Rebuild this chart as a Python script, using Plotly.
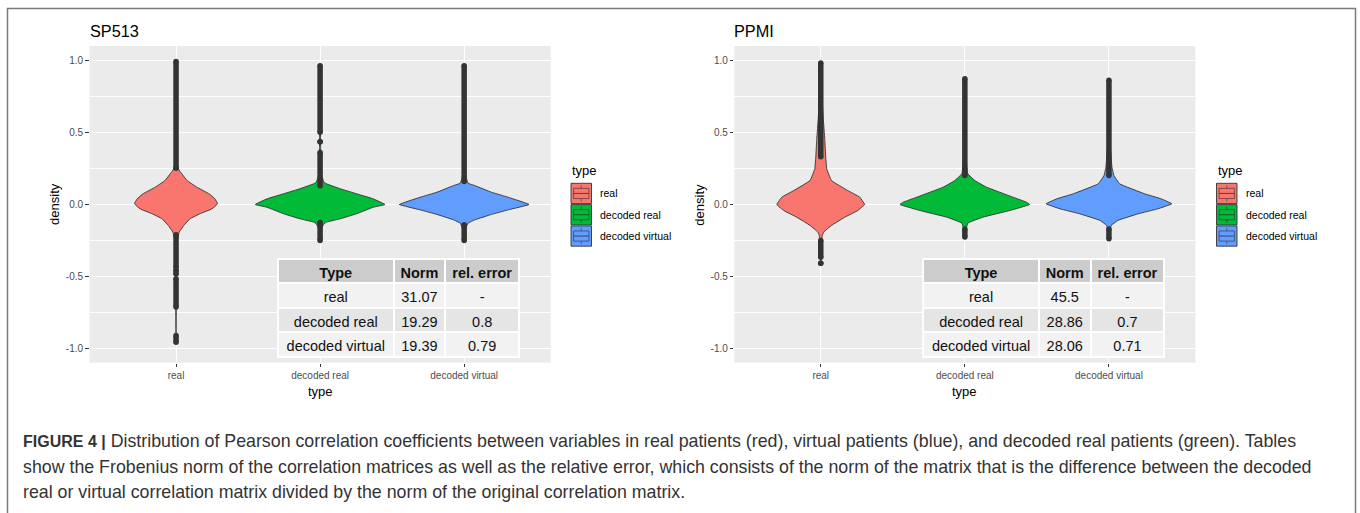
import plotly.graph_objects as go

W, H = 1360, 513

# ---------------- data ----------------
categories = ["real", "decoded real", "decoded virtual"]
panel_titles = ["SP513", "PPMI"]
fill_colors = ["#F8766D", "#00BA38", "#619CFF"]

# violin density profiles (y value, relative density; widest violin of a panel = 1)
sp_real_y = [-0.94, -0.40, -0.25, -0.19, -0.145, -0.099, -0.064, -0.03, 0.005, 0.039, 0.074, 0.12, 0.166, 0.212, 0.235, 0.27, 0.4, 1.0]
sp_real_d = [0, 0.008, 0.018, 0.05, 0.12, 0.215, 0.37, 0.555, 0.64, 0.6, 0.51, 0.32, 0.17, 0.09, 0.05, 0.023, 0.009, 0]
sp_dreal_y = [-0.25, -0.20, -0.16, -0.134, -0.122, -0.099, -0.064, -0.019, 0.0, 0.039, 0.074, 0.109, 0.143, 0.154, 0.20, 0.40, 0.96]
sp_dreal_d = [0, 0.012, 0.03, 0.06, 0.10, 0.31, 0.565, 0.82, 1.0, 0.82, 0.565, 0.31, 0.10, 0.06, 0.023, 0.008, 0]
sp_dvirt_y = [-0.25, -0.20, -0.16, -0.129, -0.106, -0.069, -0.037, 0.0, 0.05, 0.085, 0.131, 0.147, 0.2, 0.4, 0.96]
sp_dvirt_d = [0, 0.012, 0.03, 0.06, 0.165, 0.42, 0.68, 1.0, 0.68, 0.42, 0.165, 0.06, 0.023, 0.008, 0]

pp_real_y = [-0.41, -0.30, -0.215, -0.19, -0.145, -0.088, -0.042, 0.0, 0.051, 0.097, 0.166, 0.247, 0.327, 0.45, 0.6, 0.8, 0.98]
pp_real_d = [0, 0.012, 0.023, 0.046, 0.165, 0.37, 0.57, 0.677, 0.6, 0.415, 0.165, 0.092, 0.077, 0.062, 0.038, 0.015, 0]
pp_dreal_y = [-0.225, -0.18, -0.129, -0.088, -0.042, 0.0, 0.016, 0.051, 0.12, 0.166, 0.212, 0.3, 0.5, 0.87]
pp_dreal_d = [0, 0.015, 0.046, 0.277, 0.69, 1.0, 0.95, 0.74, 0.334, 0.154, 0.046, 0.023, 0.011, 0]
pp_dvirt_y = [-0.237, -0.19, -0.145, -0.11, -0.065, -0.03, 0.005, 0.04, 0.074, 0.143, 0.2, 0.26, 0.4, 0.6, 0.86]
pp_dvirt_d = [0, 0.015, 0.035, 0.138, 0.446, 0.754, 0.97, 0.8, 0.55, 0.165, 0.077, 0.046, 0.023, 0.011, 0]

# box statistics per category
sp_q1 = [-0.037, -0.03, -0.03]
sp_med = [0.018, 0.009, 0.005]
sp_q3 = [0.078, 0.035, 0.05]
sp_lo = [-0.21, -0.125, -0.14]
sp_hi = [0.25, 0.13, 0.16]
pp_q1 = [-0.046, -0.03, -0.03]
pp_med = [0.021, 0.016, 0.016]
pp_q3 = [0.104, 0.062, 0.062]
pp_lo = [-0.25, -0.17, -0.17]
pp_hi = [0.33, 0.2, 0.2]

# dense runs of outlier points (low, high)
sp_real_out = [(0.25, 0.99), (-0.434, -0.21), (-0.457, -0.457), (-0.48, -0.48), (-0.71, -0.514), (-0.953, -0.907)]
sp_dreal_out = [(0.13, 0.36), (0.435, 0.435), (0.5, 0.96), (-0.25, -0.125)]
sp_dvirt_out = [(0.16, 0.96), (-0.25, -0.14)]
pp_real_out = [(0.33, 0.98), (-0.365, -0.25), (-0.406, -0.406)]
pp_dreal_out = [(0.2, 0.87), (-0.225, -0.17)]
pp_dvirt_out = [(0.2, 0.86), (-0.237, -0.17)]

# tables
table_header = ["Type", "Norm", "rel. error"]
sp_norm = [31.07, 19.29, 19.39]
sp_err = [None, 0.8, 0.79]
pp_norm = [45.5, 28.86, 28.06]
pp_err = [None, 0.7, 0.71]

caption_bold = "FIGURE 4 |"
caption_lines = [
    " Distribution of Pearson correlation coefficients between variables in real patients (red), virtual patients (blue), and decoded real patients (green). Tables",
    "show the Frobenius norm of the correlation matrices as well as the relative error, which consists of the norm of the matrix that is the difference between the decoded",
    "real or virtual correlation matrix divided by the norm of the original correlation matrix.",
]

# ---------------- figure ----------------
FONT = "Liberation Sans, Arial, Helvetica, sans-serif"
DARK = "#333333"
VIOLIN_HALF = 0.45
BOX_W = 0.055
NBSP = "\u00a0"
EMPTY_HEADER = 16.5  # px taken by plotly's (empty, transparent) table header


def px(x):
    return x / W


def py(y):
    return 1 - y / H


fig = go.Figure()

panels = [
    dict(xa="x", ya="y", prof=[(sp_real_y, sp_real_d), (sp_dreal_y, sp_dreal_d), (sp_dvirt_y, sp_dvirt_d)],
         q1=sp_q1, med=sp_med, q3=sp_q3, lo=sp_lo, hi=sp_hi,
         out=[sp_real_out, sp_dreal_out, sp_dvirt_out], norm=sp_norm, err=sp_err),
    dict(xa="x2", ya="y2", prof=[(pp_real_y, pp_real_d), (pp_dreal_y, pp_dreal_d), (pp_dvirt_y, pp_dvirt_d)],
         q1=pp_q1, med=pp_med, q3=pp_q3, lo=pp_lo, hi=pp_hi,
         out=[pp_real_out, pp_dreal_out, pp_dvirt_out], norm=pp_norm, err=pp_err),
]

for p in panels:
    # violins
    for i, (ys, ds) in enumerate(p["prof"]):
        c = i + 1
        xs = [c + VIOLIN_HALF * d for d in ds] + [c - VIOLIN_HALF * d for d in reversed(ds)]
        yy = list(ys) + list(reversed(ys))
        fig.add_trace(go.Scatter(
            x=xs, y=yy, mode="lines", fill="toself", fillcolor=fill_colors[i],
            line=dict(color=DARK, width=0.9, shape="spline", smoothing=0.25),
            xaxis=p["xa"], yaxis=p["ya"], showlegend=False, hoverinfo="skip"))
    # boxes
    for i in range(3):
        fig.add_trace(go.Box(
            x=[i + 1], q1=[p["q1"][i]], median=[p["med"][i]], q3=[p["q3"][i]],
            lowerfence=[p["lo"][i]], upperfence=[p["hi"][i]],
            width=BOX_W, whiskerwidth=0, fillcolor=fill_colors[i],
            line=dict(color=DARK, width=0.9), boxpoints=False,
            xaxis=p["xa"], yaxis=p["ya"], showlegend=False, hoverinfo="skip"))
    # outliers
    for i, runs in enumerate(p["out"]):
        ox, oy = [], []
        for lo, hi in runs:
            ox += [i + 1, i + 1, None]
            oy += [lo, hi, None]
        fig.add_trace(go.Scatter(
            x=ox, y=oy, mode="lines+markers", line=dict(color=DARK, width=5.5),
            marker=dict(color=DARK, size=5.5), xaxis=p["xa"], yaxis=p["ya"],
            showlegend=False, hoverinfo="skip"))

# tables: a one-row bold header table plus a body table, so all row heights stay fixed
table_boxes = [(278, 520), (923.3, 1165)]
HEAD_TOP, HEAD_H, ROW_H = 259.5, 24.0, 24.7
no_header = dict(values=[], height=0, line=dict(width=0), fill_color="rgba(0,0,0,0)")
for p, (tx0, tx1) in zip(panels, table_boxes):
    norms = [f"{v:g}" for v in p["norm"]]
    errs = ["-" if v is None else f"{v:g}" for v in p["err"]]
    types = [c.replace(" ", NBSP) for c in categories]
    fig.add_trace(go.Table(
        domain=dict(x=[px(tx0), px(tx1)], y=[py(HEAD_TOP + HEAD_H + 6), py(HEAD_TOP - EMPTY_HEADER)]),
        columnwidth=[116, 52, 74],
        header=no_header,
        cells=dict(values=[[h.replace(" ", NBSP)] for h in table_header],
                   fill_color="#CCCCCC", line=dict(color="white", width=2), align="center",
                   height=HEAD_H, font=dict(family=FONT, size=14.5, color="#111111", weight="bold")),
    ))
    body_top = HEAD_TOP + HEAD_H
    fig.add_trace(go.Table(
        domain=dict(x=[px(tx0), px(tx1)], y=[py(362), py(body_top - EMPTY_HEADER)]),
        columnwidth=[116, 52, 74],
        header=no_header,
        cells=dict(values=[types, norms, errs],
                   fill_color=[["#F2F2F2", "#E5E5E5", "#F2F2F2"]] * 3,
                   line=dict(color="white", width=2), align="center", height=ROW_H,
                   font=dict(family=FONT, size=14.5, color="#111111")),
    ))

Y0, Y1 = 362.7, 46
axis_common_x = dict(range=[0.4, 3.6], tickvals=[1, 2, 3], ticktext=categories,
                     showgrid=True, gridcolor="white", gridwidth=1.1, zeroline=False,
                     ticks="outside", ticklen=3.5, tickwidth=1, tickcolor=DARK,
                     tickfont=dict(family=FONT, size=10, color="#4D4D4D"), showline=False,
                     fixedrange=True)
axis_common_y = dict(range=[-1.095, 1.097], tickvals=[-1, -0.5, 0, 0.5, 1],
                     ticktext=["-1.0", "-0.5", "0.0", "0.5", "1.0"],
                     showgrid=True, gridcolor="white", gridwidth=1.1, zeroline=False,
                     ticks="outside", ticklen=3.5, tickwidth=1, tickcolor=DARK,
                     tickfont=dict(family=FONT, size=10, color="#4D4D4D"), showline=False,
                     minor=dict(tickvals=[-0.75, -0.25, 0.25, 0.75], showgrid=True,
                                gridcolor="white", gridwidth=0.55, ticks=""),
                     domain=[py(Y0), py(Y1)], fixedrange=True)

fig.update_layout(
    width=W, height=H, margin=dict(l=0, r=0, t=0, b=0),
    paper_bgcolor="white", plot_bgcolor="#EBEBEB", showlegend=False,
    font=dict(family=FONT),
    xaxis=dict(axis_common_x, domain=[px(89.6), px(550.6)], anchor="y"),
    yaxis=dict(axis_common_y, anchor="x"),
    xaxis2=dict(axis_common_x, domain=[px(734.3), px(1195.4)], anchor="y2"),
    yaxis2=dict(axis_common_y, anchor="x2"),
)

annotations = []
shapes = []
panel_left = [89.6, 734.3]
panel_right = [550.6, 1195.4]
legend_x = [571, 1216.5]
for k in range(2):
    cx = (panel_left[k] + panel_right[k]) / 2
    annotations.append(dict(text=panel_titles[k], x=px(panel_left[k] - 2), y=py(31.5), xref="paper", yref="paper",
                            xanchor="left", yanchor="middle", showarrow=False,
                            font=dict(family=FONT, size=16.3, color="black")))
    annotations.append(dict(text="type", x=px(cx), y=py(391), xref="paper", yref="paper",
                            xanchor="center", yanchor="middle", showarrow=False,
                            font=dict(family=FONT, size=13, color="black")))
    annotations.append(dict(text="density", x=px(panel_left[k] - 35), y=py((Y0 + Y1) / 2), xref="paper", yref="paper",
                            xanchor="center", yanchor="middle", showarrow=False, textangle=-90,
                            font=dict(family=FONT, size=13, color="black")))
    # legend
    lx = legend_x[k]
    annotations.append(dict(text="type", x=px(lx - 1), y=py(170), xref="paper", yref="paper",
                            xanchor="left", yanchor="middle", showarrow=False,
                            font=dict(family=FONT, size=13, color="black")))
    for i, cat in enumerate(categories):
        ky0 = 183.3 + i * 21.3
        ky1 = ky0 + 20.3
        kx0, kx1 = lx, lx + 20.5
        shapes.append(dict(type="rect", xref="paper", yref="paper", x0=px(kx0), x1=px(kx1),
                           y0=py(ky1), y1=py(ky0), fillcolor=fill_colors[i],
                           line=dict(color=DARK, width=0.9), layer="above"))
        kw, kh = kx1 - kx0, ky1 - ky0
        # boxplot glyph inside the key
        shapes.append(dict(type="rect", xref="paper", yref="paper", x0=px(kx0 + 0.125 * kw), x1=px(kx0 + 0.875 * kw),
                           y0=py(ky0 + 0.75 * kh), y1=py(ky0 + 0.25 * kh), fillcolor=fill_colors[i],
                           line=dict(color=DARK, width=0.6), layer="above"))
        shapes.append(dict(type="line", xref="paper", yref="paper", x0=px(kx0 + 0.125 * kw), x1=px(kx0 + 0.875 * kw),
                           y0=py(ky0 + 0.5 * kh), y1=py(ky0 + 0.5 * kh), line=dict(color=DARK, width=0.8), layer="above"))
        shapes.append(dict(type="line", xref="paper", yref="paper", x0=px(kx0 + 0.5 * kw), x1=px(kx0 + 0.5 * kw),
                           y0=py(ky0 + 0.1 * kh), y1=py(ky0 + 0.25 * kh), line=dict(color=DARK, width=0.6), layer="above"))
        shapes.append(dict(type="line", xref="paper", yref="paper", x0=px(kx0 + 0.5 * kw), x1=px(kx0 + 0.5 * kw),
                           y0=py(ky0 + 0.75 * kh), y1=py(ky0 + 0.9 * kh), line=dict(color=DARK, width=0.6), layer="above"))
        annotations.append(dict(text=cat, x=px(kx1 + 6.5), y=py((ky0 + ky1) / 2), xref="paper", yref="paper",
                                xanchor="left", yanchor="middle", showarrow=False,
                                font=dict(family=FONT, size=10.5, color="black")))

# caption
cap_y = [441, 467, 492]
for j, line in enumerate(caption_lines):
    if j == 0:
        txt = f"<span style='font-size:16px'><b>{caption_bold}</b></span>" + line
    else:
        txt = line
    annotations.append(dict(text=txt, x=px(20.5), y=py(cap_y[j]), xref="paper", yref="paper",
                            xanchor="left", yanchor="middle", showarrow=False,
                            font=dict(family=FONT, size=17.8, color="#333333")))

# frame around the figure
shapes.append(dict(type="rect", xref="paper", yref="paper", x0=px(7.5), x1=px(1355.5),
                   y0=py(515), y1=py(8.5), line=dict(color="#7A7A7A", width=1.5), layer="below"))

fig.update_layout(annotations=annotations, shapes=shapes)
fig.write_html("out.html")
